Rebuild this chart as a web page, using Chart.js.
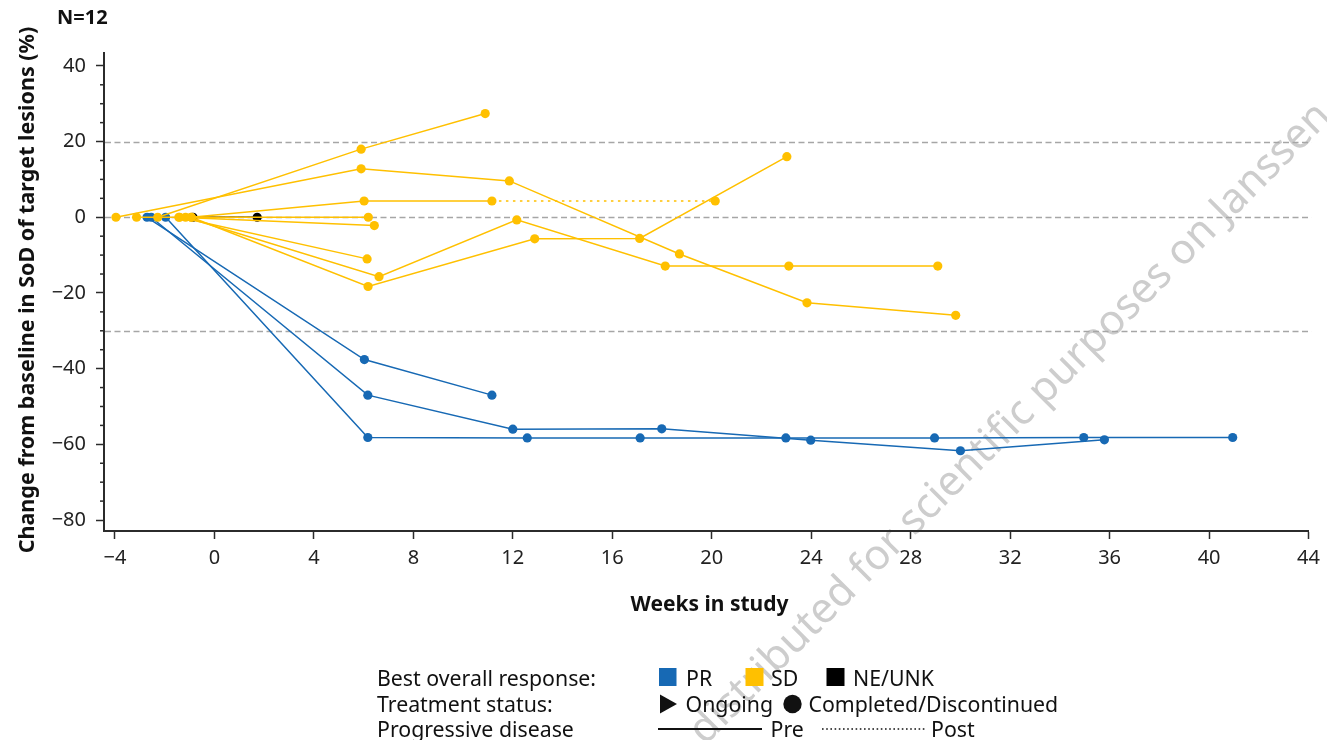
<!DOCTYPE html>
<html>
<head>
<meta charset="utf-8">
<script src="https://cdn.jsdelivr.net/npm/chart.js@4.4.1/dist/chart.umd.min.js"></script>
<style>
html,body{margin:0;padding:0;background:#fff;}
#wrap{width:1327px;height:740px;position:relative;}
</style>
</head>
<body>
<div id="wrap"><canvas id="c" width="1327" height="740"></canvas></div>
<script>
// ---------- DATA ----------
const xTickValues = [-4, 0, 4, 8, 12, 16, 20, 24, 28, 32, 36, 40, 44];
const yTickValues = [-80, -60, -40, -20, 0, 20, 40];
const yMinorTickValues = [-75, -70, -65, -55, -50, -45, -35, -30, -25, -15, -10, -5, 5, 10, 15, 25, 30, 35];
const referenceLines = [20, 0, -30];

// PR patients (blue)
const pr1Weeks = [-2.71, 6.03, 11.16];
const pr1Values = [0, -37.6, -47.0];
const pr2Weeks = [-2.54, 6.17, 12.0, 17.99, 23.98, 30.0, 35.79];
const pr2Values = [0, -47.0, -56.0, -55.9, -58.9, -61.7, -58.8];
const pr3Weeks = [-1.96, 6.17, 12.58, 17.12, 22.98, 28.96, 34.96, 40.95];
const pr3Values = [0, -58.2, -58.3, -58.3, -58.3, -58.3, -58.2, -58.2];

// SD patients (yellow)
const sdAWeeks = [-0.93, 6.18, 12.88, 17.1, 23.02];
const sdAValues = [0, -18.3, -5.7, -5.6, 16.0];
const sdBWeeks = [-3.96, 5.9, 11.86, 18.7, 23.83, 29.81];
const sdBValues = [0, 12.8, 9.6, -9.7, -22.6, -25.9];
const sdCWeeks = [-1.16, 6.62, 12.16, 18.13, 23.1, 29.09];
const sdCValues = [0, -15.7, -0.7, -12.9, -12.9, -12.9];
const sdDWeeks = [-0.93, 6.02, 11.16, 20.14];
const sdDValues = [0, 4.3, 4.3, 4.3];
const sdDProgressionWeek = 11.16; // segments after this are post-progression
const sdEWeeks = [-3.13, 6.19];
const sdEValues = [0, 0];
const sdFWeeks = [-1.43, 6.43];
const sdFValues = [0, -2.2];
const sdGWeeks = [-1.40, 6.14];
const sdGValues = [0, -11.0];
const sdHWeeks = [-2.28, 5.9, 10.89];
const sdHValues = [0, 18.0, 27.4];

// NE/UNK patient (black)
const neWeeks = [-0.86, 1.72];
const neValues = [0, 0];

// ---------- STYLE ----------
const BLUE = '#1769b4';
const YELLOW = '#ffc000';
const BLACK = '#000000';
const FONT = '"Noto Sans", "Open Sans", sans-serif';

function pts(w, v) { return w.map((x, i) => ({ x: x, y: v[i] })); }

function series(w, v, color, extra) {
  return Object.assign({
    data: pts(w, v),
    showLine: true,
    borderColor: color,
    backgroundColor: color,
    pointBackgroundColor: color,
    pointBorderWidth: 0,
    pointRadius: 4.6,
    borderWidth: 1.5,
    tension: 0
  }, extra || {});
}

const datasets = [
  series(sdAWeeks, sdAValues, YELLOW),
  series(sdBWeeks, sdBValues, YELLOW),
  series(sdCWeeks, sdCValues, YELLOW),
  series(sdDWeeks, sdDValues, YELLOW, {
    segment: { borderDash: c => (c.p0.parsed.x >= sdDProgressionWeek ? [2.5, 4.5] : undefined) }
  }),
  series(sdEWeeks, sdEValues, YELLOW),
  series(sdFWeeks, sdFValues, YELLOW),
  series(sdGWeeks, sdGValues, YELLOW),
  series(sdHWeeks, sdHValues, YELLOW),
  series(pr1Weeks, pr1Values, BLUE),
  series(pr2Weeks, pr2Values, BLUE),
  series(pr3Weeks, pr3Values, BLUE),
  series(neWeeks, neValues, BLACK)
];

function fmt(v) { return v < 0 ? '\u2212' + Math.abs(v) : String(v); }

const decor = {
  id: 'decor',
  beforeDraw(chart) {
    // watermark, behind everything
    const ctx = chart.ctx;
    const wm = 'distributed for scientific purposes on Janssen';
    ctx.save();
    ctx.font = '42px ' + FONT;
    const w = ctx.measureText(wm).width;
    const target = 888;
    ctx.letterSpacing = ((target - w) / (wm.length - 1)).toFixed(2) + 'px';
    ctx.fillStyle = '#cdcdcd';
    ctx.textAlign = 'left';
    ctx.textBaseline = 'alphabetic';
    ctx.translate(705, 746);
    ctx.rotate(-Math.PI / 4);
    ctx.fillText(wm, 0, 0);
    ctx.restore();
  },
  beforeDatasetsDraw(chart) {
    const ctx = chart.ctx, ys = chart.scales.y, ca = chart.chartArea;
    ctx.save();
    ctx.strokeStyle = '#a6a6a6';
    ctx.lineWidth = 1.5;
    ctx.setLineDash([6, 3.5]);
    referenceLines.forEach(v => {
      const y = Math.round(ys.getPixelForValue(v)) + 0.5;
      ctx.beginPath(); ctx.moveTo(ca.left + 1, y); ctx.lineTo(ca.right + 3, y); ctx.stroke();
    });
    ctx.setLineDash([]);
    ctx.strokeStyle = '#2b2b2b';
    ctx.lineWidth = 1.5;
    yMinorTickValues.forEach(v => {
      const y = ys.getPixelForValue(v);
      ctx.beginPath(); ctx.moveTo(ca.left - 4, y); ctx.lineTo(ca.left, y); ctx.stroke();
    });
    ctx.restore();
  },
  afterDraw(chart) {
    const ctx = chart.ctx;
    ctx.save();
    ctx.fillStyle = '#111';
    ctx.textBaseline = 'alphabetic';
    // N=12
    ctx.font = 'bold 20px ' + FONT;
    ctx.textAlign = 'left';
    ctx.fillText('N=12', 57, 24);
    // x title
    ctx.font = 'bold 21px ' + FONT;
    ctx.textAlign = 'center';
    ctx.fillText('Weeks in study', 709.5, 611);
    // y title
    ctx.save();
    ctx.font = 'bold 21.5px ' + FONT;
    ctx.translate(34, 290);
    ctx.rotate(-Math.PI / 2);
    ctx.fillText('Change from baseline in SoD of target lesions (%)', 0, 0);
    ctx.restore();

    // legend
    ctx.font = '21.3px ' + FONT;
    ctx.textAlign = 'left';
    const r1 = 685.5, r2 = 711.5, r3 = 736.5;
    ctx.fillText('Best overall response:', 377, r1);
    ctx.fillText('Treatment status:', 377, r2);
    ctx.fillText('Progressive disease', 377, r3);
    ctx.fillStyle = BLUE; ctx.fillRect(659, 668, 17.5, 18);
    ctx.fillStyle = YELLOW; ctx.fillRect(745.5, 668, 18, 18);
    ctx.fillStyle = BLACK; ctx.fillRect(826.5, 668, 18, 18);
    ctx.fillStyle = '#111';
    ctx.fillText('PR', 686, r1);
    ctx.fillText('SD', 771, r1);
    ctx.fillText('NE/UNK', 853, r1);
    // triangle
    ctx.beginPath(); ctx.moveTo(660, 694.5); ctx.lineTo(677, 704); ctx.lineTo(660, 713.5); ctx.closePath(); ctx.fill();
    ctx.fillText('Ongoing', 685.5, r2);
    ctx.beginPath(); ctx.arc(792.5, 704, 9.2, 0, Math.PI * 2); ctx.fill();
    ctx.fillText('Completed/Discontinued', 808.5, r2);
    // lines
    ctx.strokeStyle = '#111';
    ctx.lineWidth = 2.2;
    ctx.beginPath(); ctx.moveTo(658, 729); ctx.lineTo(762, 729); ctx.stroke();
    ctx.fillText('Pre', 770.5, r3);
    ctx.lineWidth = 1.6;
    ctx.setLineDash([1.6, 2.6]);
    ctx.beginPath(); ctx.moveTo(822, 729); ctx.lineTo(925, 729); ctx.stroke();
    ctx.setLineDash([]);
    ctx.fillText('Post', 931, r3);
    ctx.restore();
  }
};

new Chart(document.getElementById('c'), {
  type: 'scatter',
  data: { datasets: datasets },
  options: {
    responsive: false,
    animation: false,
    events: [],
    layout: { padding: { left: 0, right: 14, top: 53, bottom: 159 } },
    plugins: { legend: { display: false }, tooltip: { enabled: false }, title: { display: false } },
    scales: {
      x: {
        type: 'linear',
        min: -4.44, max: 44,
        afterBuildTicks: s => { s.ticks = xTickValues.map(v => ({ value: v })); },
        afterFit: s => { s.height = 50; },
        ticks: { callback: v => fmt(v), font: { size: 20, family: FONT }, color: '#222', padding: 7, maxRotation: 0, autoSkip: false },
        grid: { drawOnChartArea: false, drawTicks: true, tickLength: 8, tickWidth: 1.5, tickColor: '#2b2b2b' },
        border: { display: true, color: '#2b2b2b', width: 2 }
      },
      y: {
        type: 'linear',
        min: -82.9, max: 43.4,
        afterBuildTicks: s => { s.ticks = yTickValues.map(v => ({ value: v })); },
        afterFit: s => { s.width = 104; },
        ticks: { callback: v => fmt(v), font: { size: 20, family: FONT }, color: '#222', padding: 10, autoSkip: false },
        grid: { drawOnChartArea: false, drawTicks: true, tickLength: 8, tickWidth: 1.5, tickColor: '#2b2b2b' },
        border: { display: true, color: '#2b2b2b', width: 2 }
      }
    }
  },
  plugins: [decor]
});
</script>
</body>
</html>
